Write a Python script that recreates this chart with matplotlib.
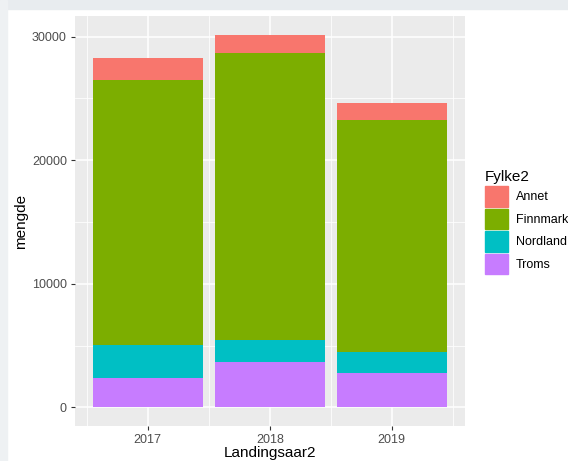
import matplotlib
matplotlib.use('Agg')
import matplotlib.pyplot as plt
from matplotlib.patches import Patch, Rectangle

plt.rcParams['font.family'] = ['Liberation Sans', 'DejaVu Sans']

# data
years = [2017, 2018, 2019]
fylker = ['Annet', 'Finnmark', 'Nordland', 'Troms']
troms = [2350, 3640, 2780]
nordland = [2670, 1780, 1720]
finnmark = [21480, 23230, 18780]
annet = [1760, 1510, 1350]
colors = {'Annet': '#F8766D', 'Finnmark': '#7CAE00', 'Nordland': '#00BFC4', 'Troms': '#C77CFF'}

fig = plt.figure(figsize=(5.68, 4.61), dpi=100)
fig.patch.set_facecolor('white')
# screenshot border strips
fig.patches.append(Rectangle((0, 1 - 9 / 461), 1, 9 / 461, transform=fig.transFigure,
                             color='#E8ECEF', zorder=0))
fig.patches.append(Rectangle((0, 0), 7 / 568, 1, transform=fig.transFigure,
                             color='#EEF1F3', zorder=0))

ax = fig.add_axes([74.5 / 568, 1 - 426 / 461, (465 - 74.5) / 568, (426 - 16) / 461])
ax.set_facecolor('#EBEBEB')

# stack from bottom: Troms, Nordland, Finnmark, Annet
bottom = [0, 0, 0]
for name, vals in [('Troms', troms), ('Nordland', nordland), ('Finnmark', finnmark), ('Annet', annet)]:
    ax.bar(years, vals, width=0.9, bottom=bottom, color=colors[name], zorder=3)
    bottom = [b + v for b, v in zip(bottom, vals)]

top = max(bottom)
ax.set_ylim(-0.05 * top, top * 1.05)
ax.set_xlim(2016.4, 2019.6)
ax.set_yticks([0, 10000, 20000, 30000])
ax.set_yticks([5000, 15000, 25000], minor=True)
ax.set_xticks(years)
ax.set_xticks([2016.5, 2017.5, 2018.5, 2019.5], minor=True)
ax.grid(which='major', color='white', linewidth=1.1, zorder=1)
ax.grid(which='minor', color='white', linewidth=0.55, zorder=1)
for s in ax.spines.values():
    s.set_visible(False)
ax.tick_params(which='major', length=3, color='#333333', labelsize=9, labelcolor='#4D4D4D', pad=2.5)
ax.tick_params(which='minor', length=0)

ax.set_xlabel('Landingsaar2', fontsize=11, labelpad=0.5)
ax.set_ylabel('mengde', fontsize=11, labelpad=3)

handles = [Patch(color=colors[f]) for f in fylker]
leg = ax.legend(handles, fylker, title='Fylke2', loc='upper left',
                bbox_to_anchor=(475 / 568, 1 - 160 / 461), bbox_transform=fig.transFigure,
                frameon=False, fontsize=9, title_fontsize=11,
                handlelength=1.85, handleheight=2.16, labelspacing=0.16,
                handletextpad=0.6, borderpad=0.3)
leg._legend_box.align = 'left'

fig.savefig('out.png', dpi=100)
